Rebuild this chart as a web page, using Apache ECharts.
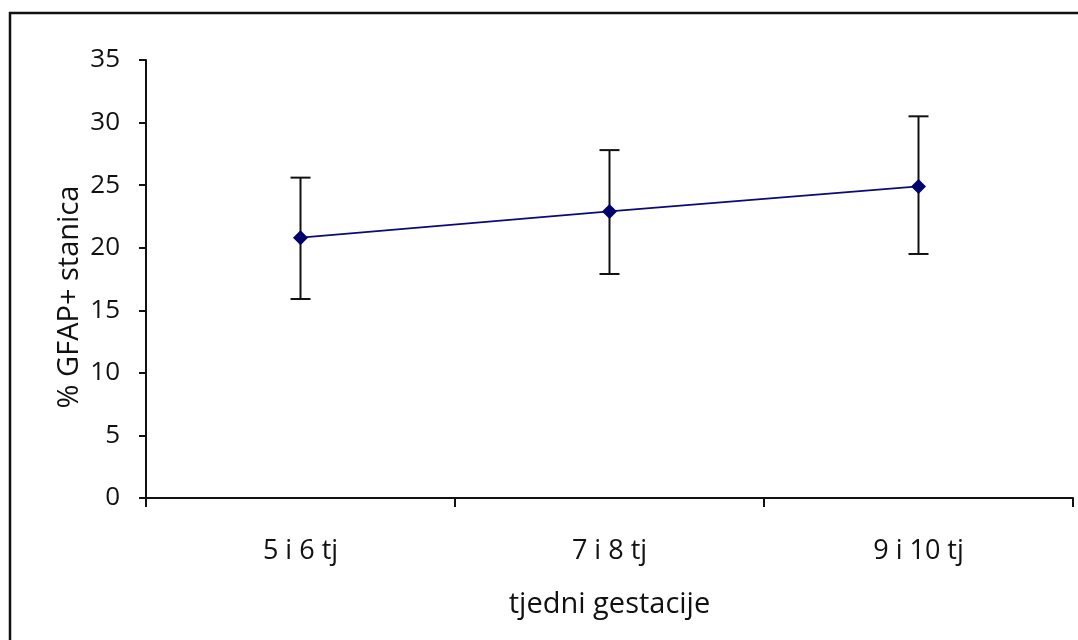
<!DOCTYPE html>
<html>
<head>
<meta charset="utf-8">
<script src="https://cdn.jsdelivr.net/npm/echarts@6/dist/echarts.min.js"></script>
<style>
html,body{margin:0;padding:0;background:#fff;}
#chart{width:1078px;height:640px;}
</style>
</head>
<body>
<div id="chart"></div>
<script>
const categories = ['5 i 6 tj', '7 i 8 tj', '9 i 10 tj'];
const meanValues = [20.8, 22.9, 24.9];
const errLow = [15.9, 17.9, 19.5];
const errHigh = [25.6, 27.8, 30.5];
const yTicks = [0, 5, 10, 15, 20, 25, 30, 35];
const xTitle = 'tjedni gestacije';
const yTitle = '% GFAP+ stanica';

const FONT = '"Open Sans", "Noto Sans", sans-serif';
const chart = echarts.init(document.getElementById('chart'), null, {renderer: 'canvas'});

const errData = categories.map((c, i) => [i, errLow[i], errHigh[i]]);

chart.setOption({
  backgroundColor: '#ffffff',
  animation: false,
  graphic: [
    {
      type: 'rect',
      shape: {x: 10, y: 13, width: 1200, height: 800},
      style: {fill: 'none', stroke: '#111', lineWidth: 2.5},
      silent: true, z: -1
    },
    {
      type: 'text',
      x: 70, y: 297,
      rotation: Math.PI / 2,
      style: {text: yTitle, fontFamily: FONT, fontSize: 29, fill: '#111',
        align: 'center', verticalAlign: 'middle'},
      silent: true
    }
  ],
  grid: {left: 146, right: 5, top: 60, bottom: 142, containLabel: false},
  xAxis: {
    type: 'category',
    data: categories,
    boundaryGap: true,
    name: xTitle,
    nameLocation: 'middle',
    nameGap: 92,
    nameTextStyle: {fontFamily: FONT, fontSize: 29, color: '#111'},
    axisLine: {lineStyle: {color: '#111', width: 2}},
    axisTick: {show: true, length: 9, inside: false, lineStyle: {color: '#111', width: 2}},
    axisLabel: {fontFamily: FONT, fontSize: 27, color: '#111', margin: 40},
    splitLine: {show: false}
  },
  yAxis: {
    type: 'value',
    min: 0, max: 35, interval: 5,
    axisLine: {show: true, lineStyle: {color: '#111', width: 2}},
    axisTick: {show: true, length: 7, lineStyle: {color: '#111', width: 2}},
    axisLabel: {fontFamily: FONT, fontSize: 26, color: '#111', margin: 26,
      formatter: v => yTicks.includes(v) ? String(v) : ''},
    splitLine: {show: false}
  },
  series: [
    {
      type: 'custom',
      renderItem: function (params, api) {
        const x = api.value(0);
        const lo = api.coord([x, api.value(1)]);
        const hi = api.coord([x, api.value(2)]);
        const half = 10;
        const style = {stroke: '#111', lineWidth: 2};
        return {
          type: 'group',
          children: [
            {type: 'line', shape: {x1: lo[0], y1: lo[1], x2: hi[0], y2: hi[1]}, style: style},
            {type: 'line', shape: {x1: lo[0] - half, y1: lo[1], x2: lo[0] + half, y2: lo[1]}, style: style},
            {type: 'line', shape: {x1: hi[0] - half, y1: hi[1], x2: hi[0] + half, y2: hi[1]}, style: style}
          ]
        };
      },
      encode: {x: 0, y: [1, 2]},
      data: errData,
      z: 1
    },
    {
      type: 'line',
      data: meanValues,
      symbol: 'diamond',
      symbolSize: 15,
      lineStyle: {color: '#0a0a78', width: 1.8},
      itemStyle: {color: '#00006e'},
      z: 3
    }
  ]
});
</script>
</body>
</html>
